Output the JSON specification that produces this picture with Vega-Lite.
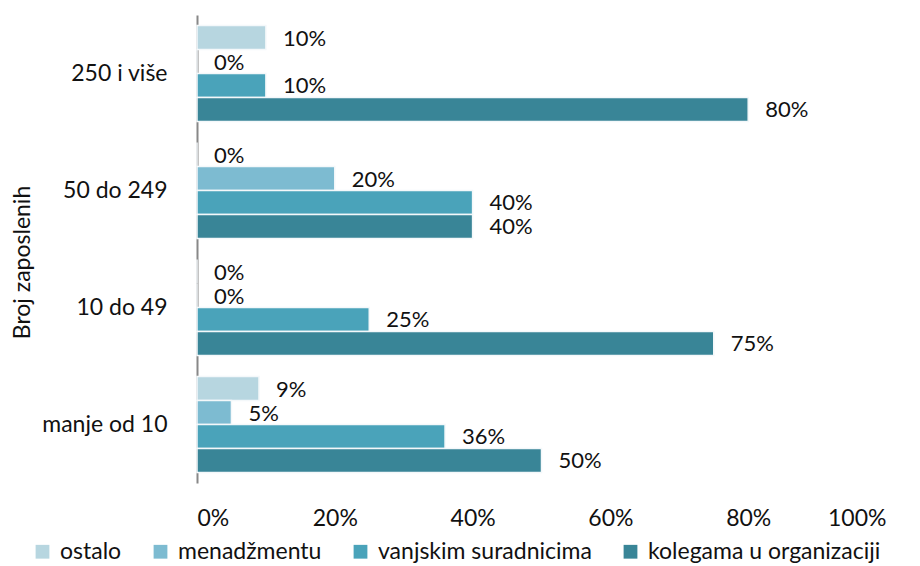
{
  "$schema": "https://vega.github.io/schema/vega-lite/v6.json",
  "width": 689,
  "height": 468,
  "autosize": {"type": "none"},
  "padding": {"left": 197, "top": 15, "right": 34, "bottom": 83},
  "background": "white",
  "config": {
    "font": "Lato",
    "view": {"stroke": null},
    "axis": {"labelColor": "#111", "titleColor": "#111", "labelFont": "Lato", "titleFont": "Lato"}
  },
  "data": {
    "values": [
      {"grupa": "250 i više", "serija": "ostalo", "v": 10},
      {"grupa": "250 i više", "serija": "menadžmentu", "v": 0},
      {"grupa": "250 i više", "serija": "vanjskim suradnicima", "v": 10},
      {"grupa": "250 i više", "serija": "kolegama u organizaciji", "v": 80},
      {"grupa": "50 do 249", "serija": "ostalo", "v": 0},
      {"grupa": "50 do 249", "serija": "menadžmentu", "v": 20},
      {"grupa": "50 do 249", "serija": "vanjskim suradnicima", "v": 40},
      {"grupa": "50 do 249", "serija": "kolegama u organizaciji", "v": 40},
      {"grupa": "10 do 49", "serija": "ostalo", "v": 0},
      {"grupa": "10 do 49", "serija": "menadžmentu", "v": 0},
      {"grupa": "10 do 49", "serija": "vanjskim suradnicima", "v": 25},
      {"grupa": "10 do 49", "serija": "kolegama u organizaciji", "v": 75},
      {"grupa": "manje od 10", "serija": "ostalo", "v": 9},
      {"grupa": "manje od 10", "serija": "menadžmentu", "v": 5},
      {"grupa": "manje od 10", "serija": "vanjskim suradnicima", "v": 36},
      {"grupa": "manje od 10", "serija": "kolegama u organizaciji", "v": 50}
    ]
  },
  "encoding": {
    "y": {
      "field": "grupa", "type": "nominal",
      "sort": ["250 i više", "50 do 249", "10 do 49", "manje od 10"],
      "scale": {"paddingInner": 0.18, "paddingOuter": 0.09},
      "axis": {
        "title": "Broj zaposlenih", "titleFontSize": 23, "titleFontWeight": "normal",
        "titleX": -175, "titleY": 247, "titleAngle": -90, "titleBaseline": "middle", "titleAlign": "center",
        "labelFontSize": 23, "labelPadding": 30, "ticks": false,
        "domainColor": "#888", "domainWidth": 2
      }
    },
    "yOffset": {
      "field": "serija", "type": "nominal",
      "sort": ["ostalo", "menadžmentu", "vanjskim suradnicima", "kolegama u organizaciji"]
    },
    "x": {
      "field": "v", "type": "quantitative",
      "scale": {"domain": [0, 100]},
      "axis": {
        "title": null, "values": [0, 20, 40, 60, 80, 100], "labelExpr": "datum.value + '%'",
        "labelFontSize": 23, "labelPadding": 24, "domain": false, "ticks": false, "grid": false
      }
    }
  },
  "layer": [
    {
      "mark": {"type": "bar", "stroke": "#f4f8fa", "strokeWidth": 1.5},
      "encoding": {
        "color": {
          "field": "serija", "type": "nominal",
          "sort": ["ostalo", "menadžmentu", "vanjskim suradnicima", "kolegama u organizaciji"],
          "scale": {
            "domain": ["ostalo", "menadžmentu", "vanjskim suradnicima", "kolegama u organizaciji"],
            "range": ["#b7d6e0", "#7dbbd1", "#4aa3ba", "#398597"]
          },
          "legend": {
            "title": null, "orient": "none", "direction": "horizontal",
            "legendX": -166, "legendY": 525,
            "symbolType": "square", "symbolSize": 190, "symbolStrokeWidth": 0,
            "labelFontSize": 23, "labelColor": "#111", "labelFont": "Lato", "labelLimit": 0,
            "columnPadding": 27, "symbolOffset": 0, "labelOffset": 6
          }
        }
      }
    },
    {
      "mark": {"type": "text", "align": "left", "dx": 17, "dy": 1, "fontSize": 22, "color": "#111", "baseline": "middle", "text": {"expr": "datum.v + '%'"}},
      "encoding": {"detail": {"field": "serija"}}
    }
  ]
}
